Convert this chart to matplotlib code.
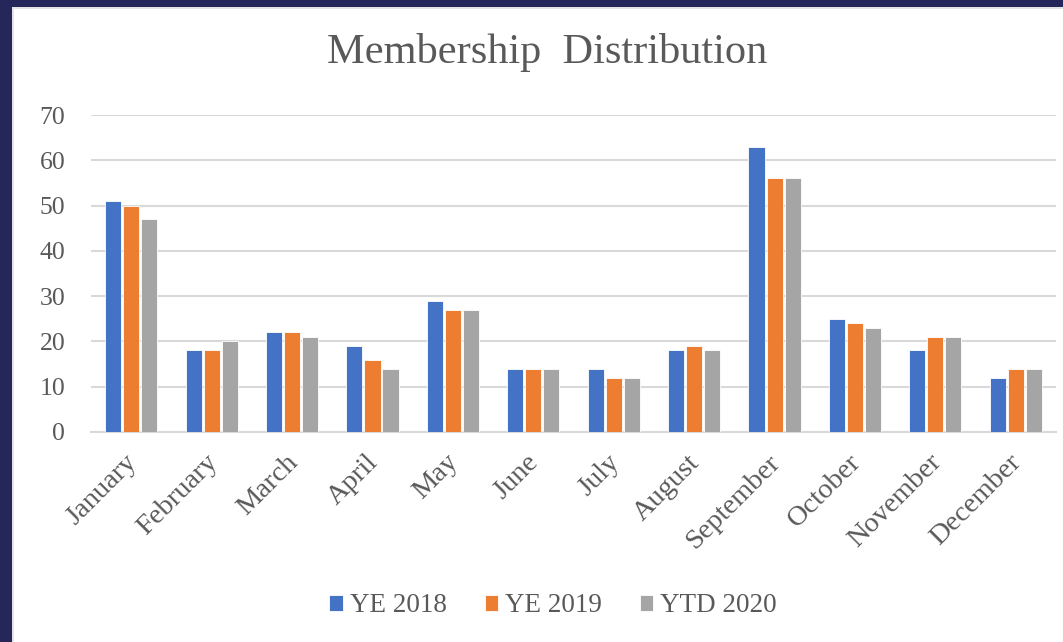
import matplotlib
matplotlib.use("Agg")
import matplotlib.pyplot as plt
import matplotlib.transforms as mtransforms
from matplotlib.patches import Rectangle
import numpy as np

months = ["January", "February", "March", "April", "May", "June", "July",
          "August", "September", "October", "November", "December"]
ye2018 = [51, 18, 22, 19, 29, 14, 14, 18, 63, 25, 18, 12]
ye2019 = [50, 18, 22, 16, 27, 14, 12, 19, 56, 24, 21, 14]
ytd2020 = [47, 20, 21, 14, 27, 14, 12, 18, 56, 23, 21, 14]
series_names = ["YE 2018", "YE 2019", "YTD 2020"]
yticks = [0, 10, 20, 30, 40, 50, 60, 70]

colors = ["#4472C4", "#ED7D31", "#A5A5A5"]
text_color = "#595959"
serif = ["Liberation Serif", "DejaVu Serif"]

W, H = 1063, 642
fig = plt.figure(figsize=(W / 100, H / 100), dpi=100)
fig.patch.set_facecolor("white")

# navy frame (left and top)
fig.patches.append(Rectangle((0, 0), 12 / W, 1, transform=fig.transFigure,
                             facecolor="#25275A", edgecolor="none", zorder=0))
fig.patches.append(Rectangle((0, 1 - 7 / H), 1, 7 / H, transform=fig.transFigure,
                             facecolor="#25275A", edgecolor="none", zorder=0))
fig.patches.append(Rectangle((12 / W, 0), 2 / W, 1 - 7 / H, transform=fig.transFigure,
                             facecolor="#E4E4E4", edgecolor="none", zorder=0))
fig.patches.append(Rectangle((12 / W, 1 - 9 / H), 1 - 12 / W, 2 / H, transform=fig.transFigure,
                             facecolor="#E4E4E4", edgecolor="none", zorder=0))

left, right = 91 / W, 1056 / W
bottom, top = 1 - 432 / H, 1 - 115 / H
ax = fig.add_axes([left, bottom, right - left, top - bottom])

x = np.arange(len(months))
bw = 0.2
for i, (vals, c, name) in enumerate(zip([ye2018, ye2019, ytd2020], colors, series_names)):
    ax.bar(x + (i - 1) * bw * 1.12, vals, width=bw, color=c, edgecolor="white",
           linewidth=0.6, label=name, zorder=3)

ax.set_xlim(-0.5, len(months) - 0.5)
ax.set_ylim(0, 70)
ax.set_yticks(yticks)
ax.set_yticklabels([str(v) for v in yticks], fontfamily=serif, fontsize=18.5, color=text_color)
ax.yaxis.grid(True, color="#D9D9D9", linewidth=1.5, zorder=0)
ax.set_axisbelow(True)
for s in ["top", "right", "left"]:
    ax.spines[s].set_visible(False)
ax.spines["bottom"].set_color("#D9D9D9")
ax.spines["bottom"].set_linewidth(1.5)
ax.tick_params(axis="both", length=0)
ax.tick_params(axis="y", pad=18.5)

ax.set_xticks(x)
ax.set_xticklabels(months, rotation=45, ha="right", rotation_mode="anchor",
                   fontfamily=serif, fontsize=20.5, color=text_color)
offset = mtransforms.ScaledTranslation(-7 / 100, -13 / 100, fig.dpi_scale_trans)
for lab in ax.get_xticklabels():
    lab.set_transform(lab.get_transform() + offset)

fig.text(0.515, 1 - 52 / H, "Membership  Distribution", ha="center", va="center",
         fontfamily=serif, fontsize=30.5, color=text_color)

leg = fig.legend(loc="center", bbox_to_anchor=(553 / W, 1 - 606 / H), ncol=3,
                 frameon=False, prop={"family": serif, "size": 19.5},
                 handlelength=0.5, handleheight=0.5, handletextpad=0.25,
                 columnspacing=1.4, labelcolor=text_color)

fig.savefig("out.png", dpi=100, facecolor=fig.get_facecolor())
